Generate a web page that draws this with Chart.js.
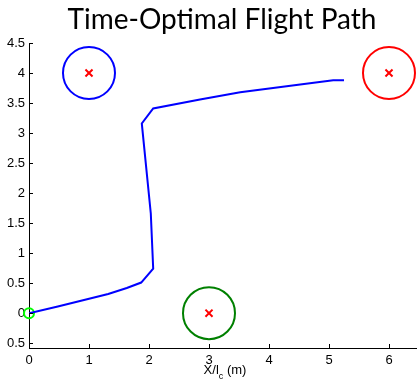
<!DOCTYPE html>
<html>
<head>
<meta charset="utf-8">
<script src="https://cdn.jsdelivr.net/npm/chart.js@4"></script>
<style>
  html, body { margin: 0; padding: 0; background: #fff; }
  #wrap { width: 417px; height: 380px; }
</style>
</head>
<body>
<div id="wrap"><canvas id="myChart" width="417" height="380"></canvas></div>
<script>
// flight path (x / l_c, y / l_c)
var pathX = [0, 0.48, 1.32, 1.63, 1.87, 2.07, 2.03, 1.88, 2.07, 2.85, 3.52, 4.52, 5.07, 5.25];
var pathY = [0, 0.11, 0.32, 0.42, 0.51, 0.74, 1.66, 3.16, 3.41, 3.56, 3.68, 3.81, 3.88, 3.88];

// obstacles / waypoints
var blueX = [1], blueY = [4];
var redX = [6], redY = [4];
var greenX = [3], greenY = [0];
var startX = [0], startY = [0];

var xTicks = [0, 1, 2, 3, 4, 5, 6];
var yTicks = [-0.5, 0, 0.5, 1, 1.5, 2, 2.5, 3, 3.5, 4, 4.5];
var yTickLabels = ["0.5", "0", "0.5", "1", "1.5", "2", "2.5", "3", "3.5", "4", "4.5"];

// visible axis range (right edge of the figure cuts the x axis)
var xMin = 0, xMax = 6.4667;
var yMin = -0.58, yMax = 4.5;

var titleText = "Time-Optimal Flight Path";

function pts(xs, ys) {
  return xs.map(function (x, i) { return { x: x, y: ys[i] }; });
}

var tickFont = { family: "Liberation Sans", size: 13 };

// inward tick marks + title + x label
var decor = {
  id: "decor",
  afterDraw: function (chart) {
    var c = chart.ctx, a = chart.chartArea;
    var sx = chart.scales.x, sy = chart.scales.y;
    c.save();
    c.strokeStyle = "#000";
    c.lineWidth = 1;
    c.beginPath();
    xTicks.forEach(function (v) {
      var px = Math.round(sx.getPixelForValue(v)) + 0.5;
      c.moveTo(px, a.bottom);
      c.lineTo(px, a.bottom - 4);
    });
    yTicks.forEach(function (v) {
      var py = Math.round(sy.getPixelForValue(v)) + 0.5;
      c.moveTo(a.left, py);
      c.lineTo(a.left + 4, py);
    });
    c.stroke();

    // title
    c.fillStyle = "#000";
    c.font = "28px Lato";
    c.textAlign = "center";
    c.textBaseline = "alphabetic";
    c.fillText(titleText, 222, 29);

    // x axis label with subscript
    c.font = "13px Liberation Sans";
    c.textAlign = "left";
    var p1 = "X/l", p2 = "c", p3 = " (m)";
    var w1 = c.measureText(p1).width;
    c.font = "9px Liberation Sans";
    var w2 = c.measureText(p2).width;
    c.font = "13px Liberation Sans";
    var w3 = c.measureText(p3).width;
    var x0 = 225 - (w1 + w2 + w3) / 2;
    c.fillText(p1, x0, 374);
    c.font = "9px Liberation Sans";
    c.fillText(p2, x0 + w1, 379);
    c.font = "13px Liberation Sans";
    c.fillText(p3, x0 + w1 + w2, 374);
    c.restore();
  }
};

var ctx = document.getElementById("myChart");
var chart = new Chart(ctx, {
  type: "scatter",
  data: {
    datasets: [
      {
        label: "path",
        data: pts(pathX, pathY),
        showLine: true,
        borderColor: "#0000ff",
        borderWidth: 2,
        pointRadius: 0,
        fill: false
      },
      {
        label: "blue",
        data: pts(blueX, blueY),
        pointRadius: 26,
        pointBorderWidth: 2,
        pointBorderColor: "#0000ff",
        pointBackgroundColor: "rgba(0,0,0,0)",
        clip: false
      },
      {
        label: "red",
        data: pts(redX, redY),
        pointRadius: 26,
        pointBorderWidth: 2,
        pointBorderColor: "#ff0000",
        pointBackgroundColor: "rgba(0,0,0,0)",
        clip: false
      },
      {
        label: "green",
        data: pts(greenX, greenY),
        pointRadius: 26,
        pointBorderWidth: 2,
        pointBorderColor: "#008000",
        pointBackgroundColor: "rgba(0,0,0,0)",
        clip: false
      },
      {
        label: "start",
        data: pts(startX, startY),
        pointRadius: 5,
        pointBorderWidth: 2,
        pointBorderColor: "#00ff00",
        pointBackgroundColor: "rgba(0,0,0,0)",
        clip: false
      },
      {
        label: "centers",
        data: pts(blueX.concat(redX, greenX), blueY.concat(redY, greenY)),
        pointStyle: "crossRot",
        pointRadius: 5,
        pointBorderWidth: 2,
        pointBorderColor: "#ff0000",
        clip: false
      }
    ]
  },
  options: {
    responsive: false,
    animation: false,
    layout: { autoPadding: false, padding: { top: 43, left: 0, right: 0, bottom: 0 } },
    plugins: {
      legend: { display: false },
      tooltip: { enabled: false },
      title: { display: false }
    },
    scales: {
      x: {
        type: "linear",
        bounds: "data",
        min: xMin,
        max: xMax,
        afterBuildTicks: function (s) {
          s.ticks = xTicks.map(function (v) { return { value: v }; });
          s.min = xMin;
          s.max = xMax;
        },
        afterFit: function (s) {
          s.height = 32;
          s.paddingLeft = 0;
          s.paddingRight = 0;
        },
        grid: { display: false, drawTicks: false },
        border: { display: true, color: "#000", width: 1 },
        ticks: { color: "#000", font: tickFont, padding: 5, maxRotation: 0 }
      },
      y: {
        type: "linear",
        bounds: "data",
        min: yMin,
        max: yMax,
        afterBuildTicks: function (s) {
          s.ticks = yTicks.map(function (v) { return { value: v }; });
          s.min = yMin;
          s.max = yMax;
        },
        afterFit: function (s) {
          s.width = 29;
          s.paddingTop = 0;
          s.paddingBottom = 0;
        },
        grid: { display: false, drawTicks: false },
        border: { display: true, color: "#000", width: 1 },
        ticks: {
          color: "#000",
          font: tickFont,
          padding: 4,
          callback: function (v) {
            var i = yTicks.indexOf(v);
            return i >= 0 ? yTickLabels[i] : "";
          }
        }
      }
    }
  },
  plugins: [decor]
});
</script>
</body>
</html>
